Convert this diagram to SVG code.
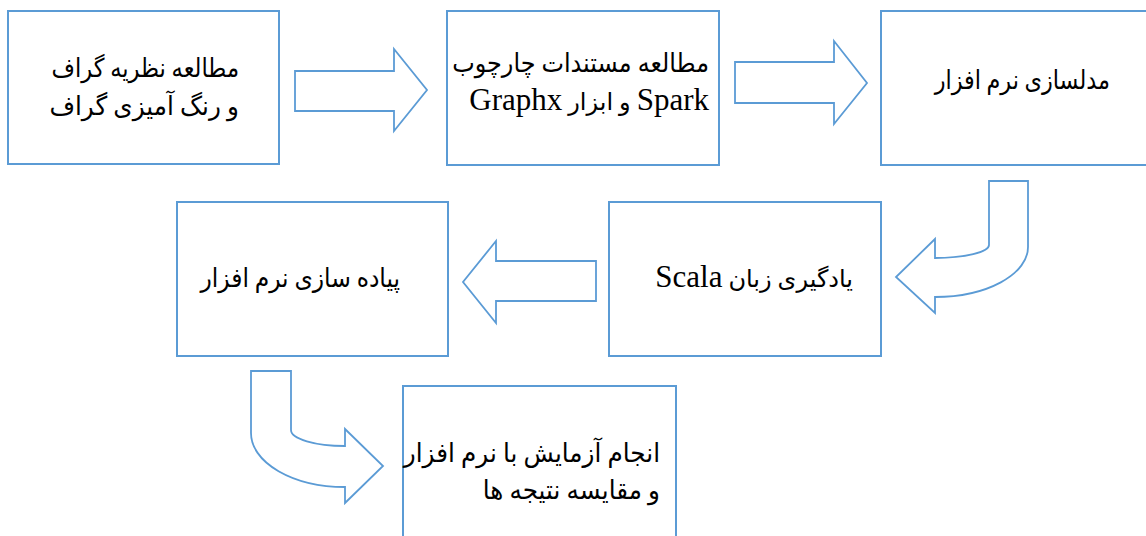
<svg xmlns="http://www.w3.org/2000/svg" width="1146" height="536" viewBox="0 0 1146 536">
<style>
.box{fill:#fff;stroke:#5B9BD5;stroke-width:2}
.arr{fill:#fff;stroke:#5B9BD5;stroke-width:1.8;stroke-linejoin:miter}
.t{font-family:"Liberation Serif","DejaVu Sans",serif;font-size:26px;fill:#000;direction:rtl}
.m{font-size:24px}
.l{font-size:31px}
</style>
<rect width="1146" height="536" fill="#fff"/>
<g id="connectors">
<path class="arr" d="M295,71 H394 V49 L427,90 L394,131 V111 H295 Z"/>
<path class="arr" d="M735,62 H834 V41 L867,83 L834,124 V103 H735 Z"/>
<path class="arr" d="M989,181 H1028 V247 A93 50 0 0 1 935,297 V313 L896,277 L935,239 V258 A54 13 0 0 0 989,245 Z"/>
<path class="arr" d="M596,261 H496 V241 L463,282 L496,323 V301 H596 Z"/>
<path class="arr" d="M251,371 H291 V430 A54 16 0 0 0 345,446 V429 L383,466 L345,503 V487 A94 54 0 0 1 251,433 Z"/>
</g>
<g id="n1">
<rect class="box" x="8" y="11" width="271" height="153"/>
<text class="t" transform="translate(239,77) scale(0.87,1)" text-anchor="start">مطالعه نظریه گراف</text>
<text class="t" transform="translate(239,115) scale(0.95,1)" text-anchor="start">و رنگ آمیزی گراف</text>
</g>
<g id="n2">
<rect class="box" x="447" y="11" width="272" height="154"/>
<text class="t" transform="translate(709,72) scale(0.92,1)" text-anchor="start">مطالعه مستندات چارچوب</text>
<text class="t m" x="709" y="110" text-anchor="start"><tspan class="l">Spark</tspan> و ابزار <tspan class="l">Graphx</tspan></text>
</g>
<g id="n3">
<rect class="box" x="881" y="11" width="275" height="154"/>
<text class="t" transform="translate(1110,89) scale(0.86,1)" text-anchor="start">مدلسازی نرم افزار</text>
</g>
<g id="n4">
<rect class="box" x="609" y="202" width="272" height="154"/>
<text class="t m" x="853" y="287" text-anchor="start">یادگیری زبان <tspan class="l">Scala</tspan></text>
</g>
<g id="n5">
<rect class="box" x="177" y="202" width="271" height="154"/>
<text class="t" transform="translate(400,287) scale(0.9,1)" text-anchor="start">پیاده سازی نرم افزار</text>
</g>
<g id="n6">
<rect class="box" x="403" y="386" width="273" height="160"/>
<text class="t" transform="translate(660,462) scale(0.95,1)" text-anchor="start">انجام آزمایش با نرم افزار</text>
<text class="t" transform="translate(660,499) scale(0.95,1)" text-anchor="start">و مقایسه نتیجه ها</text>
</g>
</svg>
